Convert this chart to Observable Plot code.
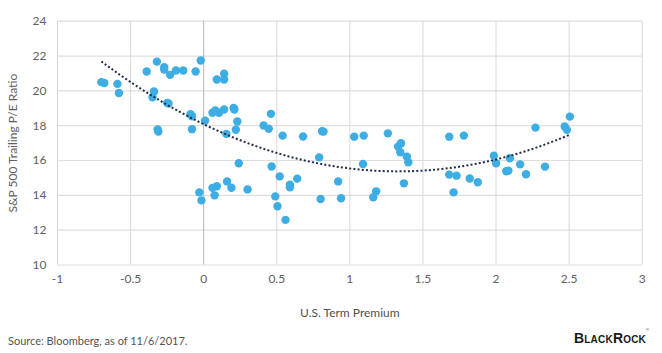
<!DOCTYPE html>
<html><head><meta charset="utf-8">
<script src="https://cdn.jsdelivr.net/npm/d3@7"></script>
<script src="https://cdn.jsdelivr.net/npm/@observablehq/plot@0.6"></script>
<style>
body{margin:0;background:#fff;}
#wrap{position:relative;width:662px;height:353px;overflow:hidden;font-family:Lato,"Open Sans",sans-serif;}
#source{position:absolute;left:8px;top:334px;font-size:11px;color:#555;font-family:Lato,sans-serif;}
#logo{position:absolute;left:574px;top:330px;font-size:14px;font-weight:700;font-variant:small-caps;color:#1a1a1a;font-family:"Liberation Sans",Arial,sans-serif;letter-spacing:0.2px;}
#logo sup{font-size:4px;font-weight:400;position:relative;top:-3px;vertical-align:top;}
</style>
</head><body>
<div id="wrap"><div id="chart"></div>
<div id="source">Source: Bloomberg, as of 11/6/2017.</div>
<div id="logo">BlackRock<sup>®</sup></div>
</div>
<script>
const termPremium = [-0.70,-0.68,-0.59,-0.58,-0.39,-0.32,-0.27,-0.27,-0.23,-0.19,-0.14,-0.055,-0.02,0.09,0.14,0.14,
 -0.34,-0.35,-0.25,-0.24,-0.09,-0.08,0.01,-0.08,-0.315,-0.31,0.06,0.08,0.105,0.14,0.205,0.21,0.23,0.22,0.155,
 0.41,0.445,0.46,0.54,0.68,0.81,0.82,1.03,1.095,1.26,1.33,1.35,1.345,1.39,1.40,1.37,0.79,0.465,0.52,0.59,0.59,0.64,0.24,
 -0.03,-0.015,0.06,0.09,0.075,0.16,0.19,0.30,0.49,0.505,0.56,0.80,0.92,0.94,1.09,1.16,1.18,
 1.68,1.78,1.68,1.73,1.71,1.82,1.875,1.985,2.00,2.095,2.07,2.085,2.165,2.205,2.27,2.335,2.47,2.485,2.505];
const peRatio = [20.50,20.45,20.40,19.88,21.11,21.68,21.36,21.22,20.92,21.17,21.17,21.11,21.74,20.65,20.98,20.65,
 19.96,19.63,19.31,19.27,18.66,18.54,18.29,17.80,17.78,17.66,18.74,18.87,18.74,18.93,19.02,18.93,18.24,17.77,17.53,
 18.01,17.82,18.68,17.43,17.38,17.68,17.66,17.37,17.43,17.56,16.80,16.99,16.47,16.22,15.90,14.69,16.18,15.66,15.09,14.61,14.46,14.96,15.84,
 14.17,13.71,14.43,14.52,14.00,14.80,14.44,14.34,13.94,13.37,12.59,13.79,14.80,13.83,15.80,13.89,14.23,
 17.37,17.43,15.19,15.13,14.17,14.97,14.75,16.28,15.84,16.13,15.38,15.42,15.78,15.21,17.89,15.65,17.95,17.76,18.52];
const xTicks = [-1,-0.5,0,0.5,1,1.5,2,2.5,3];
const yTicks = [10,12,14,16,18,20,22,24];
const xTitle = "U.S. Term Premium";
const yTitle = "S&P 500 Trailing P/E Ratio";

const points = termPremium.map((x,i)=>({x, y: peRatio[i]}));

// polynomial (order 2) least-squares trendline from the data
function quadFit(xs, ys){
  const S=[0,0,0,0,0], T=[0,0,0];
  xs.forEach((x,i)=>{ for(let k=0;k<5;k++) S[k]+=x**k; for(let k=0;k<3;k++) T[k]+=ys[i]*x**k; });
  const A=[[S[0],S[1],S[2],T[0]],[S[1],S[2],S[3],T[1]],[S[2],S[3],S[4],T[2]]];
  for(let i=0;i<3;i++){ for(let j=i+1;j<3;j++){ const f=A[j][i]/A[i][i]; for(let k=i;k<4;k++) A[j][k]-=f*A[i][k]; } }
  const c=[0,0,0];
  for(let i=2;i>=0;i--){ let s=A[i][3]; for(let k=i+1;k<3;k++) s-=A[i][k]*c[k]; c[i]=s/A[i][i]; }
  return c;
}
const coef = quadFit(termPremium, peRatio);
const [x0,x1] = d3.extent(termPremium);
const trend = d3.range(0,101).map(i=>{ const x=x0+(x1-x0)*i/100; return {x, y: coef[0]+coef[1]*x+coef[2]*x*x}; });

const chart = Plot.plot({
  width: 662, height: 325,
  marginLeft: 57, marginRight: 20.3, marginTop: 20.7, marginBottom: 60.5,
  x: {domain: [-1,3]},
  y: {domain: [10,24]},
  style: {fontFamily: "Lato, 'Open Sans', sans-serif", fontSize: "12px", color: "#606060", background: "#fff"},
  marks: [
    Plot.ruleY(yTicks, {stroke: "#dedede", strokeWidth: 1.2}),
    Plot.ruleX(xTicks.filter(d=>d!==0), {stroke: "#d8d8d8"}),
    Plot.ruleX([0], {stroke: "#b5b5b5"}),
    Plot.axisX({ticks: xTicks, tickSize: 0, tickPadding: 9, tickFormat: d=>String(d), label: null}),
    Plot.axisY({ticks: yTicks, tickSize: 0, tickPadding: 11, tickFormat: d=>String(d),
      label: yTitle, labelAnchor: "center", labelOffset: 49, labelArrow: "none"}),
    Plot.text([xTitle], {frameAnchor: "bottom", dy: 52, fontSize: 12, fill: "#505050"}),
    Plot.dot(points, {x: "x", y: "y", r: 4.2, fill: "#3dade3"}),
    Plot.line(trend, {x: "x", y: "y", stroke: "#1f2c4c", strokeWidth: 2, strokeDasharray: "2,2.2", strokeLinecap: "butt"})
  ]
});
document.getElementById("chart").appendChild(chart);
</script>
</body></html>
